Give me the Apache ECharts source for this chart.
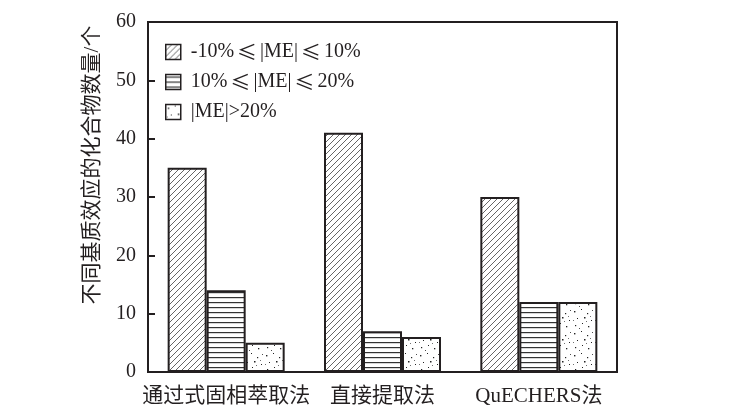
<!DOCTYPE html>
<html><head><meta charset="utf-8">
<script src="https://cdn.jsdelivr.net/npm/echarts@6/dist/echarts.min.js"></script>
<style>html,body{margin:0;padding:0;background:#fff}#c{width:745px;height:416px}</style>
</head><body><div id="c"></div>
<script>
var categories = ['通过式固相萃取法', '直接提取法', 'QuECHERS法'];
var seriesNames = ['-10%≤|ME|≤10%', '10%≤|ME|≤20%', '|ME|>20%'];
var valsLow = [35, 41, 30];
var valsMid = [14, 7, 12];
var valsHigh = [5, 6, 12];
var yTicks = [0, 10, 20, 30, 40, 50, 60];
var yName = '不同基质效应的化合物数量/个';

var INK = '#231f20';
var FONT = '"Liberation Serif", "Times New Roman", "Noto Sans CJK SC", serif';
var CJK = '"Noto Sans CJK SC", sans-serif';

function hatch() {
  var c = document.createElement('canvas'); c.width = 6; c.height = 6;
  var g = c.getContext('2d');
  g.fillStyle = '#fff'; g.fillRect(0, 0, 6, 6);
  g.strokeStyle = '#555'; g.lineWidth = 0.9;
  g.beginPath();
  g.moveTo(-1, 7); g.lineTo(7, -1);
  g.moveTo(-1, 1); g.lineTo(1, -1);
  g.moveTo(5, 7); g.lineTo(7, 5);
  g.stroke();
  return c;
}
function horiz() {
  var c = document.createElement('canvas'); c.width = 4; c.height = 5;
  var g = c.getContext('2d');
  g.fillStyle = '#fff'; g.fillRect(0, 0, 4, 5);
  g.fillStyle = '#333'; g.fillRect(0, 2, 4, 1.2);
  return c;
}
function dots() {
  var c = document.createElement('canvas'); c.width = 22; c.height = 22;
  var g = c.getContext('2d');
  g.fillStyle = '#fff'; g.fillRect(0, 0, 22, 22);
  var pts = [[2,3,1.4],[9,1,1],[15,5,1.2],[19,12,1],[5,10,1],[12,9,1.5],[3,17,1.2],[10,15,1],[16,18,1.3],[20,2,0.9],[7,20,0.9],[14,13,0.8],[1,12,0.8],[18,8,0.8]];
  g.fillStyle = '#222';
  pts.forEach(function (p) { g.fillRect(p[0], p[1], p[2], p[2]); });
  return c;
}

var patterns = [hatch(), horiz(), dots()];
var datas = [valsLow, valsMid, valsHigh];

var chart = echarts.init(document.getElementById('c'), null, {renderer: 'canvas'});
chart.setOption({
  animation: false,
  backgroundColor: '#fff',
  grid: {left: 148, right: 128, top: 22, bottom: 44, show: true, borderColor: INK, borderWidth: 2, backgroundColor: 'transparent'},
  legend: {
    orient: 'vertical', left: 160, top: 37, itemWidth: 15, itemHeight: 15, itemGap: 10,
    icon: 'rect',
    data: seriesNames,
    formatter: function (n) { return '{gap|}' + n.split('≤').join('{le|≤}'); },
    textStyle: {fontFamily: FONT, fontSize: 20, color: INK,
      rich: {
        gap: {width: 5},
        le: {fontFamily: CJK, fontSize: 20, color: INK, padding: [0, 3, 0, 3]}
      }},
    itemStyle: {borderColor: INK, borderWidth: 1.5}
  },
  xAxis: {
    type: 'category', data: categories,
    axisLine: {lineStyle: {color: INK, width: 2}},
    axisTick: {show: false},
    axisLabel: {fontFamily: FONT, fontSize: 21, color: INK, margin: 14, interval: 0, hideOverlap: false}
  },
  yAxis: {
    type: 'value', min: 0, max: 60, interval: 10,
    axisLine: {show: true, lineStyle: {color: INK, width: 2}},
    axisTick: {show: true, inside: true, length: 7, lineStyle: {color: INK, width: 2}},
    splitLine: {show: false},
    axisLabel: {fontFamily: FONT, fontSize: 20, color: INK, margin: 12,
      formatter: function (v) { return yTicks.indexOf(v) >= 0 ? String(v) : ''; }}
  },
  graphic: [{
    type: 'text', x: 92, y: 165, rotation: Math.PI / 2,
    style: {text: yName, font: '21px ' + FONT, fill: INK, align: 'center', verticalAlign: 'middle'}
  }],
  series: seriesNames.map(function (n, i) {
    return {
      name: n, type: 'bar', data: datas[i], barWidth: 39, barGap: '0%',
      itemStyle: {color: {image: patterns[i], repeat: 'repeat'}, borderColor: INK, borderWidth: 2}
    };
  })
});
</script></body></html>
